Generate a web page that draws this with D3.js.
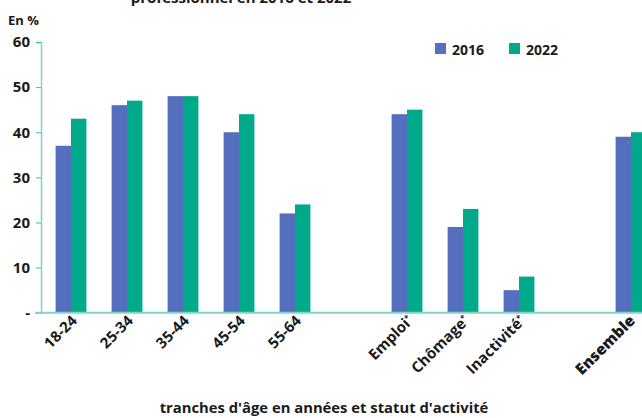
<!DOCTYPE html>
<html>
<head>
<meta charset="utf-8">
<script src="https://cdn.jsdelivr.net/npm/d3@7"></script>
<style>
  body { margin: 0; background: #fff; }
  text { font-family: "Open Sans", sans-serif; font-weight: 700; fill: #1a1a1a; }
</style>
</head>
<body>
<script>
// data
const categories = ["18-24", "25-34", "35-44", "45-54", "55-64", "", "Emploi", "Chômage", "Inactivité", " ", "Ensemble"];
const starred = ["Emploi", "Chômage", "Inactivité"];
const values2016 = [37, 46, 48, 40, 22, null, 44, 19, 5, null, 39];
const values2022 = [43, 47, 48, 44, 24, null, 45, 23, 8, null, 40];
const series = ["2016", "2022"];
const yTicks = [0, 10, 20, 30, 40, 50, 60];

const width = 642, height = 418;
const margin = { top: 42, left: 41, bottom: 105 };
const colors = { "2016": "#556fbe", "2022": "#00a98a" };

const svg = d3.select("body").append("svg")
  .attr("width", width).attr("height", height);

const x = d3.scaleBand()
  .domain(categories)
  .range([margin.left + 2, margin.left + 2 + categories.length * 56])
  .paddingInner(0.45).paddingOuter(0.225);

const xs = d3.scaleBand().domain(series).range([0, x.bandwidth()]);

const y = d3.scaleLinear().domain([0, 60]).range([height - margin.bottom - 0.3, margin.top]);

// title (cut at the top in the reference)
svg.append("text")
  .attr("x", 241).attr("y", 3)
  .attr("text-anchor", "middle")
  .style("font-size", "15px")
  .text("professionnel en 2016 et 2022");

svg.append("text")
  .attr("x", 8).attr("y", 25)
  .style("font-size", "13px")
  .text("En %");

// bars
const rows = categories.map((c, i) => ({ cat: c, "2016": values2016[i], "2022": values2022[i] }))
  .filter(r => r["2016"] != null);

const g = svg.append("g");
rows.forEach(r => {
  series.forEach(s => {
    g.append("rect")
      .attr("x", x(r.cat) + xs(s))
      .attr("y", y(r[s]))
      .attr("width", xs.bandwidth())
      .attr("height", y(0) - y(r[s]))
      .attr("fill", colors[s]);
  });
});

// y axis
const yAxis = svg.append("g")
  .attr("transform", `translate(${margin.left},0)`)
  .call(d3.axisLeft(y).tickValues(yTicks).tickSize(5).tickPadding(6)
    .tickFormat(d => d === 0 ? "-" : d));
yAxis.select(".domain").attr("stroke", "#7fd6c4").attr("stroke-width", 1.5);
yAxis.selectAll(".tick line").attr("stroke", "#3cc2a3");
yAxis.selectAll(".tick text").style("font-size", "15px").style("font-weight", 700);

// x axis line
svg.append("line")
  .attr("x1", margin.left - 6).attr("x2", width)
  .attr("y1", y(0)).attr("y2", y(0))
  .attr("stroke", "#7fd6c4").attr("stroke-width", 2);

// x labels, rotated
const labels = svg.append("g");
categories.forEach(c => {
  if (c.trim() === "") return;
  const big = c === "Ensemble";
  const cx = x(c) + x.bandwidth() / 2 + (big ? 5 : 7);
  const t = labels.append("text")
    .attr("transform", `translate(${cx},${y(0) + 9}) rotate(-45)`)
    .attr("text-anchor", "end")
    .style("font-size", big ? "15.5px" : "15px")
    .style("font-weight", big ? 800 : 700);
  t.append("tspan").text(c);
  if (starred.includes(c)) {
    t.append("tspan").attr("dy", -5).style("font-size", "8px").text("*");
  }
});

// legend
const legend = svg.append("g");
series.forEach((s, i) => {
  const lx = 435 + i * 74;
  legend.append("rect").attr("x", lx).attr("y", 43).attr("width", 11).attr("height", 11).attr("fill", colors[s]);
  legend.append("text").attr("x", lx + 17).attr("y", 54.5).style("font-size", "14px").text(s);
});

// x axis title
svg.append("text")
  .attr("x", 324).attr("y", 413)
  .attr("text-anchor", "middle")
  .style("font-size", "14.8px")
  .text("tranches d'âge en années et statut d'activité");
</script>
</body>
</html>
